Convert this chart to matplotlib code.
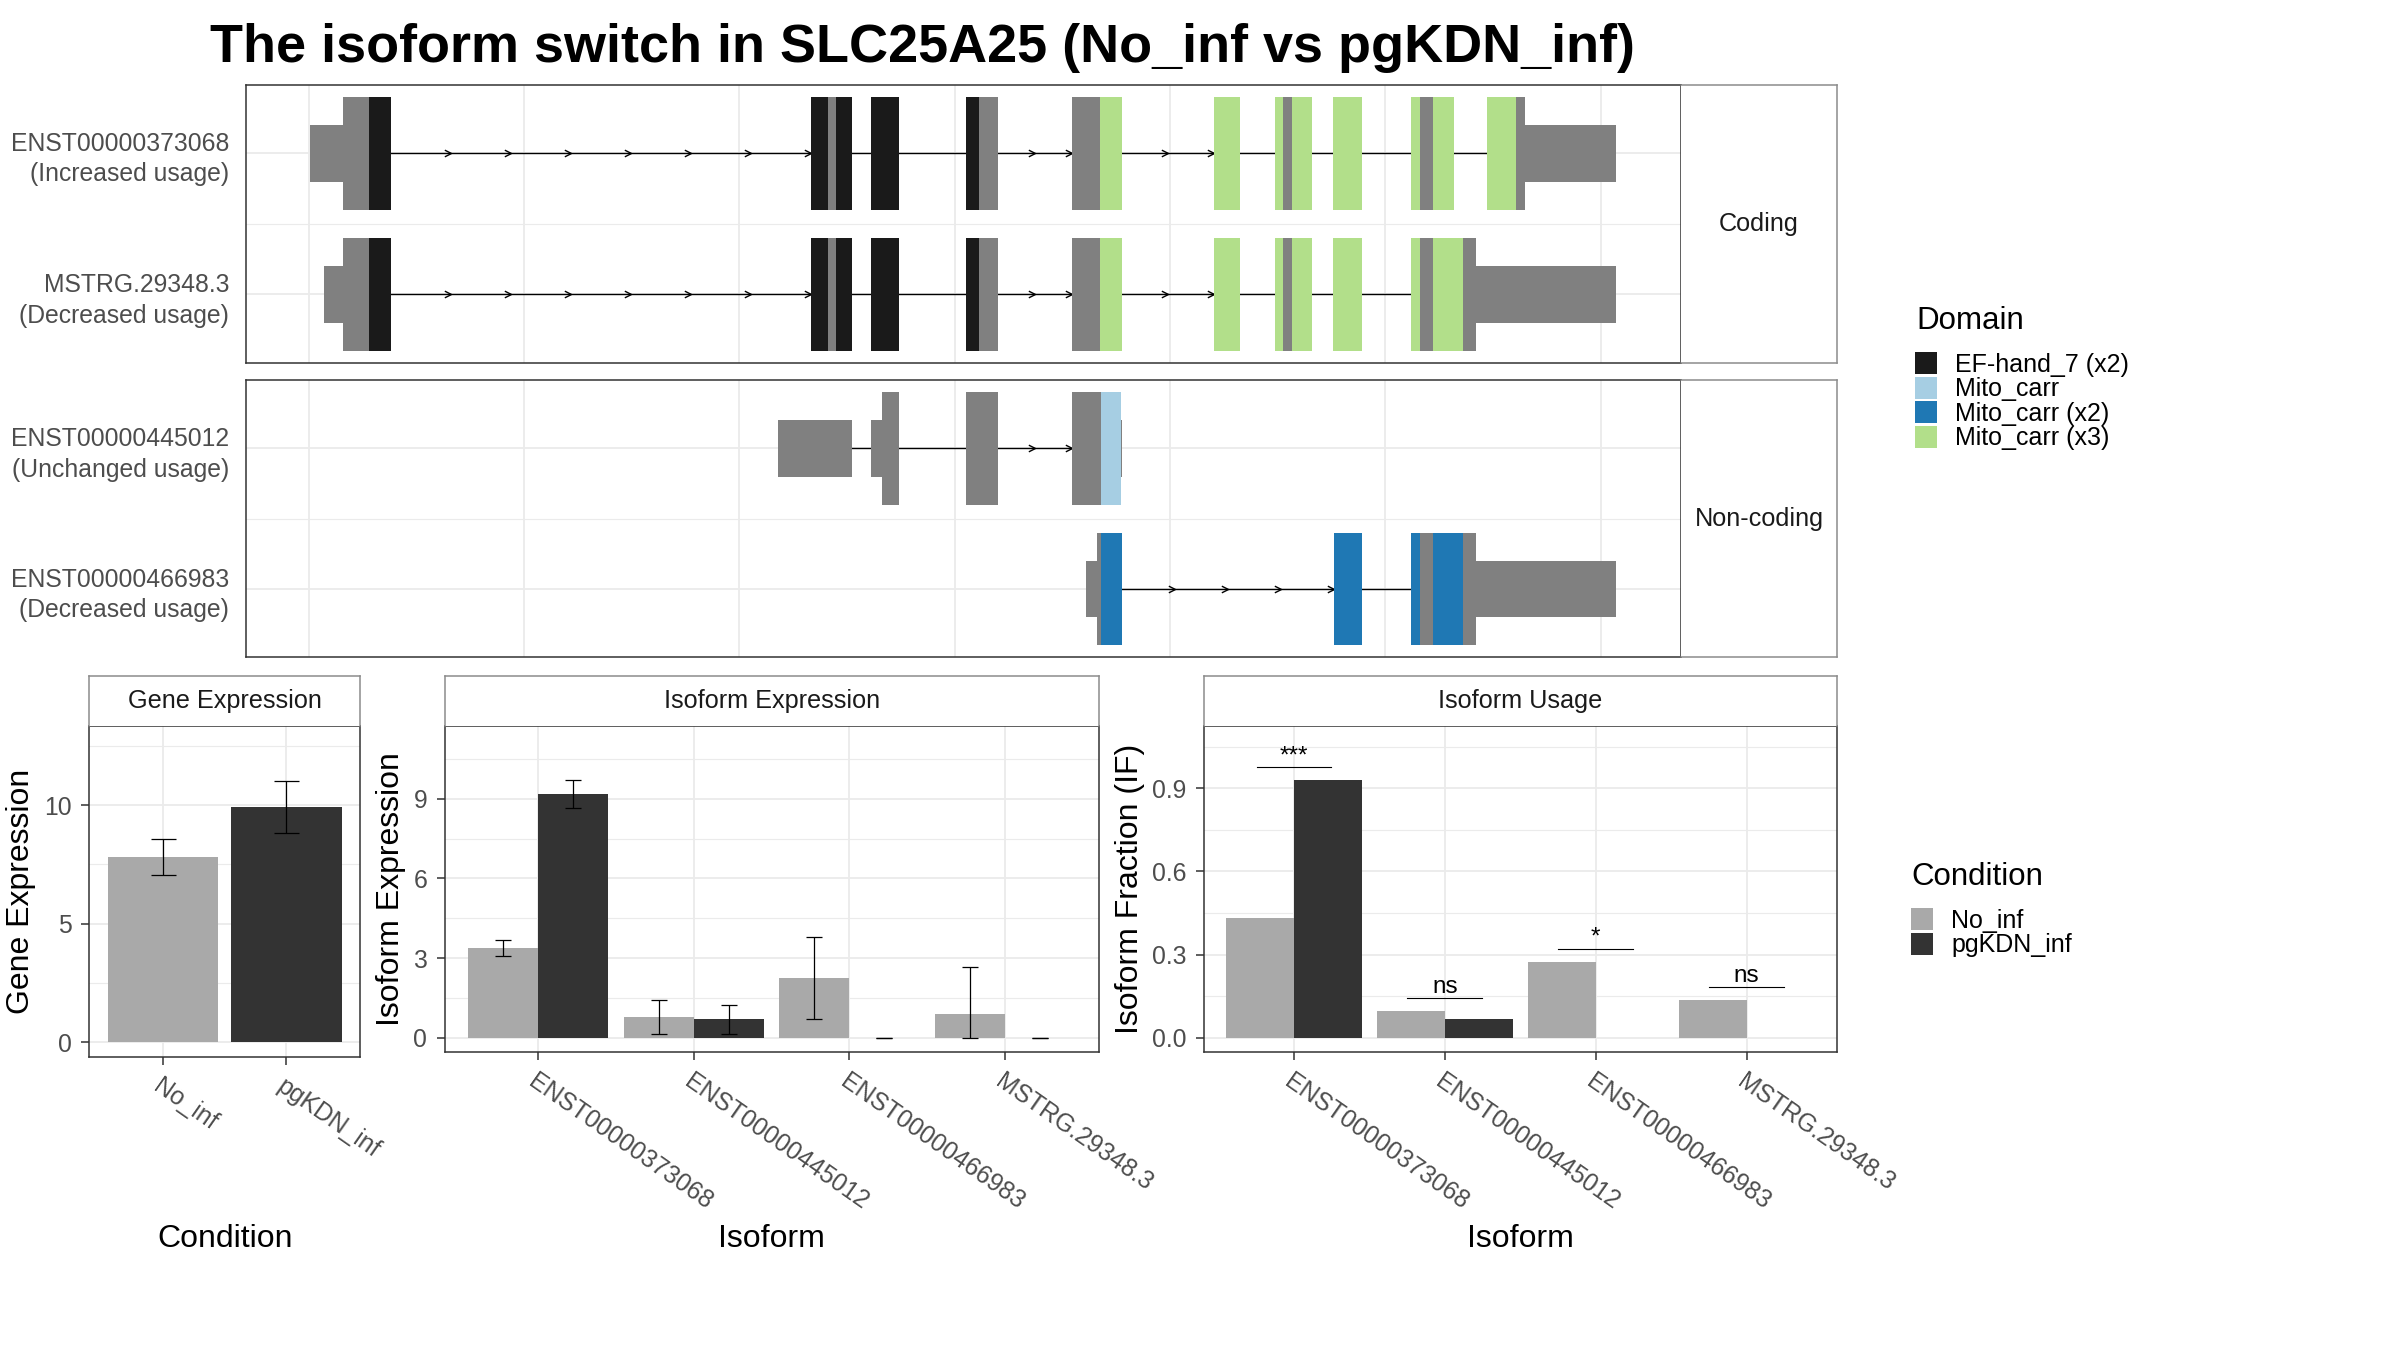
import math
import matplotlib
matplotlib.use("Agg")
import matplotlib.pyplot as plt
from matplotlib.patches import Patch
from matplotlib.path import Path

plt.rcParams['font.family'] = ['Liberation Sans', 'DejaVu Sans']

W, H = 2400, 1350

# transcript structures, x in plot units (one vertical gridline per unit)
# each segment: (start, end, part) with part 'utr', 'cds' or a domain key
t1_segments = [(0.007, 0.159, 'utr'), (0.159, 0.280, 'cds'), (0.280, 0.382, 'ef'),
               (2.332, 2.410, 'ef'), (2.410, 2.448, 'cds'), (2.448, 2.524, 'ef'),
               (2.611, 2.742, 'ef'),
               (3.052, 3.111, 'ef'), (3.111, 3.201, 'cds'),
               (3.545, 3.674, 'cds'), (3.674, 3.778, 'mc3'),
               (4.206, 4.326, 'mc3'),
               (4.489, 4.526, 'mc3'), (4.526, 4.568, 'cds'), (4.568, 4.657, 'mc3'),
               (4.759, 4.890, 'mc3'),
               (5.119, 5.160, 'mc3'), (5.160, 5.220, 'cds'), (5.220, 5.318, 'mc3'),
               (5.472, 5.605, 'mc3'), (5.605, 5.649, 'cds'), (5.649, 6.073, 'utr')]
t2_segments = [(0.071, 0.159, 'utr'), (0.159, 0.280, 'cds'), (0.280, 0.382, 'ef'),
               (2.332, 2.410, 'ef'), (2.410, 2.448, 'cds'), (2.448, 2.524, 'ef'),
               (2.611, 2.742, 'ef'),
               (3.052, 3.111, 'ef'), (3.111, 3.201, 'cds'),
               (3.545, 3.674, 'cds'), (3.674, 3.778, 'mc3'),
               (4.206, 4.326, 'mc3'),
               (4.489, 4.526, 'mc3'), (4.526, 4.568, 'cds'), (4.568, 4.657, 'mc3'),
               (4.759, 4.890, 'mc3'),
               (5.119, 5.160, 'mc3'), (5.160, 5.220, 'cds'), (5.220, 5.360, 'mc3'),
               (5.360, 5.420, 'cds'), (5.420, 6.073, 'utr')]
t3_segments = [(2.178, 2.524, 'utr'),
               (2.611, 2.661, 'utr'), (2.661, 2.742, 'cds'),
               (3.052, 3.201, 'cds'),
               (3.545, 3.677, 'cds'), (3.677, 3.771, 'mc'), (3.771, 3.778, 'utr')]
t4_segments = [(3.608, 3.661, 'utr'), (3.661, 3.677, 'cds'), (3.677, 3.776, 'mc2'),
               (4.760, 4.891, 'mc2'),
               (5.117, 5.160, 'mc2'), (5.160, 5.219, 'cds'), (5.219, 5.360, 'mc2'),
               (5.360, 5.419, 'cds'), (5.419, 6.069, 'utr')]

coding_labels = ['ENST00000373068\n(Increased usage)', 'MSTRG.29348.3\n(Decreased usage)']
noncoding_labels = ['ENST00000445012\n(Unchanged usage)', 'ENST00000466983\n(Decreased usage)']

domain_keys = ['ef', 'mc', 'mc2', 'mc3']
domain_names = ['EF-hand_7 (x2)', 'Mito_carr', 'Mito_carr (x2)', 'Mito_carr (x3)']
domain_colors = ['#1A1A1A', '#A6CEE3', '#1F78B4', '#B2DF8A']

# expression data
conditions = ['No_inf', 'pgKDN_inf']
cond_colors = ['#A9A9A9', '#333333']
gene_expr = [7.82, 9.93]
gene_lo = [7.05, 8.84]
gene_hi = [8.59, 11.03]

isoforms = ['ENST00000373068', 'ENST00000445012', 'ENST00000466983', 'MSTRG.29348.3']
iso_expr_no = [3.38, 0.78, 2.25, 0.89]
iso_expr_pg = [9.18, 0.69, 0.0, 0.0]
iso_lo_no = [3.07, 0.16, 0.72, 0.0]
iso_hi_no = [3.70, 1.43, 3.79, 2.68]
iso_lo_pg = [8.66, 0.16, 0.0, 0.0]
iso_hi_pg = [9.70, 1.22, 0.0, 0.0]
iso_if_no = [0.432, 0.097, 0.274, 0.135]
iso_if_pg = [0.929, 0.067, 0.0, 0.0]
sig_labels = ['***', 'ns', '*', 'ns']

part_colors = dict(zip(domain_keys, domain_colors))
part_colors['utr'] = '#808080'
part_colors['cds'] = '#808080'

GRID = '#EBEBEB'
BORDER = '#333333'
STRIP_BORDER = '#8C8C8C'
TICK_TXT = '#4D4D4D'

chevron = Path([(-1, 0.5), (0, 0), (-1, -0.5)], [Path.MOVETO, Path.LINETO, Path.LINETO])

fig = plt.figure(figsize=(W / 100, H / 100), dpi=100)


def box(x0, y0, x1, y1):
    return [x0 / W, 1 - y1 / H, (x1 - x0) / W, (y1 - y0) / H]


def style_spines(ax, color=BORDER):
    for sp in ax.spines.values():
        sp.set_color(color)
        sp.set_linewidth(1.1)


def draw_transcript(ax, segments, y):
    for start, end, part in segments:
        h = 0.4 if part == 'utr' else 0.8
        ax.barh(y, end - start, left=start, height=h, color=part_colors[part],
                linewidth=0, antialiased=False, zorder=3)
    # intron lines with arrow heads on the long ones
    for (s0, e0, p0), (s1, e1, p1) in zip(segments[:-1], segments[1:]):
        gap = s1 - e0
        if gap > 1e-6:
            ax.plot([e0, s1], [y, y], color='black', lw=1.0, zorder=2)
            if gap > 0.33:
                n = math.ceil(gap / 0.28)
                xs = [e0 + gap * k / n for k in range(1, n + 1)]
                ax.plot(xs, [y] * n, linestyle='none', marker=chevron, ms=9.6,
                        mfc='none', mec='black', mew=1.0, zorder=2)


def transcript_panel(rect, strip_rect, segs_top, segs_bottom, labels, strip_label):
    ax = fig.add_axes(rect)
    draw_transcript(ax, segs_top, 2)
    draw_transcript(ax, segs_bottom, 1)
    ax.set_xlim(-0.292, 6.373)
    ax.set_ylim(0.516, 2.486)
    ax.set_xticks(range(7))
    ax.set_yticks([1, 2], [labels[1], labels[0]], fontsize=17.8, color=TICK_TXT,
                  linespacing=1.35)
    ax.set_yticks([1.5], minor=True)
    ax.tick_params(axis='x', length=0, labelbottom=False)
    ax.tick_params(axis='y', which='both', length=0, pad=12)
    ax.grid(True, which='major', color=GRID, lw=1.3)
    ax.grid(True, which='minor', axis='y', color=GRID, lw=0.8)
    ax.set_axisbelow(True)
    style_spines(ax)
    st = fig.add_axes(strip_rect)
    st.set_xticks([])
    st.set_yticks([])
    style_spines(st, STRIP_BORDER)
    st.spines['left'].set_visible(False)
    st.text(0.5, 0.5, strip_label, ha='center', va='center', fontsize=18.2,
            color='#1A1A1A', transform=st.transAxes)
    return ax


transcript_panel(box(246, 84.7, 1681, 362.7), box(1681, 84.7, 1837, 362.7),
                 t1_segments, t2_segments, coding_labels, 'Coding')
transcript_panel(box(246, 380, 1681, 657.3), box(1681, 380, 1837, 657.3),
                 t3_segments, t4_segments, noncoding_labels, 'Non-coding')


def bar_panel(rect, strip_rect, title, xlabel, ylabel, ylab_x):
    ax = fig.add_axes(rect)
    st = fig.add_axes(strip_rect)
    st.set_xticks([])
    st.set_yticks([])
    style_spines(st, STRIP_BORDER)
    st.spines['bottom'].set_visible(False)
    st.text(0.5, 0.5, title, ha='center', va='center', fontsize=18.2,
            color='#1A1A1A', transform=st.transAxes)
    style_spines(ax)
    ax.set_axisbelow(True)
    ax.tick_params(axis='both', which='major', length=5.5, width=1.1, color=BORDER,
                   labelsize=17.8, labelcolor=TICK_TXT, pad=7)
    ax.tick_params(axis='both', which='minor', length=0)
    ax.grid(True, which='major', color=GRID, lw=1.3)
    ax.grid(True, which='minor', axis='y', color=GRID, lw=0.8)
    x0, y0, w, h = rect
    ax.set_ylabel(ylabel, fontsize=23, va='center')
    ax.yaxis.set_label_coords((ylab_x / W - x0) / w, 0.5)
    ax.set_xlabel(xlabel, fontsize=23, va='center')
    ax.xaxis.set_label_coords(0.5, ((1 - 1239 / H) - y0) / h)
    return ax


def rotate_labels(ax, pos, labels):
    ax.set_xticks(pos, labels, rotation=-35, ha='left', va='top',
                  rotation_mode='anchor')


# gene expression
ax_ge = bar_panel(box(89.3, 726.1, 360, 1056.7), box(89.3, 675.5, 360, 726.1),
                  'Gene Expression', 'Condition', 'Gene Expression', 21)
xg = [1, 2]
ax_ge.bar(xg, gene_expr, width=0.9, color=cond_colors, zorder=2)
ax_ge.errorbar(xg, gene_expr,
               yerr=[[v - lo for v, lo in zip(gene_expr, gene_lo)],
                     [hi - v for v, hi in zip(gene_expr, gene_hi)]],
               fmt='none', ecolor='black', elinewidth=0.9, capsize=9, capthick=0.9, zorder=3)
ax_ge.set_xlim(0.4, 2.6)
ax_ge.set_ylim(-0.6, 13.33)
ax_ge.set_yticks([0, 5, 10], ['0', '5', '10'])
ax_ge.set_yticks([2.5, 7.5, 12.5], minor=True)
rotate_labels(ax_ge, xg, conditions)

# isoform expression
ax_ie = bar_panel(box(444.6, 726.1, 1098.6, 1051.6), box(444.6, 675.5, 1098.6, 726.1),
                  'Isoform Expression', 'Isoform', 'Isoform Expression', 390.7)
xi = list(range(1, len(isoforms) + 1))
x_no = [x - 0.225 for x in xi]
x_pg = [x + 0.225 for x in xi]
ax_ie.bar(x_no, iso_expr_no, width=0.45, color=cond_colors[0], zorder=2)
ax_ie.bar(x_pg, iso_expr_pg, width=0.45, color=cond_colors[1], zorder=2)
ax_ie.errorbar(x_no, iso_expr_no,
               yerr=[[v - lo for v, lo in zip(iso_expr_no, iso_lo_no)],
                     [hi - v for v, hi in zip(iso_expr_no, iso_hi_no)]],
               fmt='none', ecolor='black', elinewidth=0.9, capsize=5.8, capthick=0.9, zorder=3)
ax_ie.errorbar(x_pg, iso_expr_pg,
               yerr=[[v - lo for v, lo in zip(iso_expr_pg, iso_lo_pg)],
                     [hi - v for v, hi in zip(iso_expr_pg, iso_hi_pg)]],
               fmt='none', ecolor='black', elinewidth=0.9, capsize=5.8, capthick=0.9, zorder=3)
ax_ie.set_xlim(0.4, 4.6)
ax_ie.set_ylim(-0.52, 11.74)
ax_ie.set_yticks([0, 3, 6, 9], ['0', '3', '6', '9'])
ax_ie.set_yticks([1.5, 4.5, 7.5, 10.5], minor=True)
rotate_labels(ax_ie, xi, isoforms)

# isoform usage
ax_iu = bar_panel(box(1203.6, 726.1, 1837, 1051.6), box(1203.6, 675.5, 1837, 726.1),
                  'Isoform Usage', 'Isoform', 'Isoform Fraction (IF)', 1130)
ax_iu.bar(x_no, iso_if_no, width=0.45, color=cond_colors[0], zorder=2)
ax_iu.bar(x_pg, iso_if_pg, width=0.45, color=cond_colors[1], zorder=2)
for x, a, b, lab in zip(xi, iso_if_no, iso_if_pg, sig_labels):
    yl = max(a, b) + 0.047
    ax_iu.plot([x - 0.248, x + 0.248], [yl, yl], color='black', lw=0.8, zorder=3)
    ax_iu.text(x, yl + 0.018, lab, ha='center', va='baseline', fontsize=17.5, zorder=3)
ax_iu.set_xlim(0.4, 4.6)
ax_iu.set_ylim(-0.05, 1.124)
ax_iu.set_yticks([0, 0.3, 0.6, 0.9], ['0.0', '0.3', '0.6', '0.9'])
ax_iu.set_yticks([0.15, 0.45, 0.75, 1.05], minor=True)
rotate_labels(ax_iu, xi, isoforms)

# legends
leg_kw = dict(loc='upper left', frameon=False, borderpad=0, borderaxespad=0,
              handlelength=0.88, handleheight=0.98, labelspacing=0,
              handletextpad=0.72, fontsize=18)
fig.text(1916 / W, 1 - 321 / H, 'Domain', ha='left', va='center', fontsize=22.5)
fig.legend([Patch(facecolor=c, edgecolor='none') for c in domain_colors], domain_names,
           bbox_to_anchor=(1915 / W, 1 - 352 / H), **leg_kw)
fig.text(1911.5 / W, 1 - 877 / H, 'Condition', ha='left', va='center', fontsize=22.5)
fig.legend([Patch(facecolor=c, edgecolor='none') for c in cond_colors], conditions,
           bbox_to_anchor=(1911 / W, 1 - 908 / H), **leg_kw)

fig.text(210.5 / W, 1 - 61.7 / H, 'The isoform switch in SLC25A25 (No_inf vs pgKDN_inf)',
         ha='left', va='baseline', fontsize=38.9, fontweight='bold')

fig.savefig('out.png', dpi=100, facecolor='white')
